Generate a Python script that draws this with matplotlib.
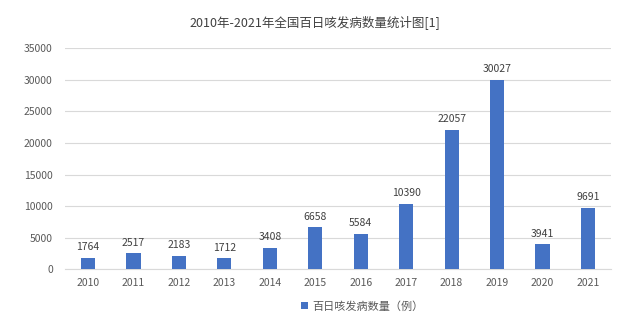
import matplotlib
matplotlib.use("Agg")
import matplotlib.pyplot as plt

plt.rcParams['font.family'] = ['Noto Sans CJK SC', 'DejaVu Sans']

years = ['2010', '2011', '2012', '2013', '2014', '2015',
         '2016', '2017', '2018', '2019', '2020', '2021']
cases = [1764, 2517, 2183, 1712, 3408, 6658,
         5584, 10390, 22057, 30027, 3941, 9691]
y_ticks = [0, 5000, 10000, 15000, 20000, 25000, 30000, 35000]

text_col = '#595959'
bar_col = '#4472C4'

fig = plt.figure(figsize=(6.3, 3.25), dpi=100)
ax = fig.add_axes([0.1037, 0.1714, 0.8656, 0.68])

x = range(len(years))
bars = ax.bar(x, cases, width=0.31, color=bar_col, zorder=3,
              label='百日咳发病数量（例）')

for xi, v in zip(x, cases):
    ax.text(xi, v + 900, str(v), ha='center', va='bottom',
            fontsize=7.5, color='#404040')

ax.set_xlim(-0.5, len(years) - 0.5)
ax.set_ylim(0, 35000)
ax.set_yticks(y_ticks)
ax.set_yticklabels([str(t) for t in y_ticks])
ax.set_xticks(list(x))
ax.set_xticklabels(years)
ax.grid(axis='y', color='#D9D9D9', linewidth=0.8, zorder=0)
ax.tick_params(axis='both', length=0, labelsize=7.5, colors=text_col)
ax.tick_params(axis='y', pad=9)
ax.tick_params(axis='x', pad=6)
for s in ['top', 'right', 'left']:
    ax.spines[s].set_visible(False)
ax.spines['bottom'].set_color('#D9D9D9')

fig.suptitle('2010年-2021年全国百日咳发病数量统计图[1]', y=0.955,
             fontsize=9, color='#404040')
fig.legend(loc='lower center', bbox_to_anchor=(0.575, 0.01), frameon=False,
           fontsize=8, labelcolor=text_col, handlelength=0.6, handleheight=0.6,
           handletextpad=0.4)

fig.savefig('out.png', dpi=100)
